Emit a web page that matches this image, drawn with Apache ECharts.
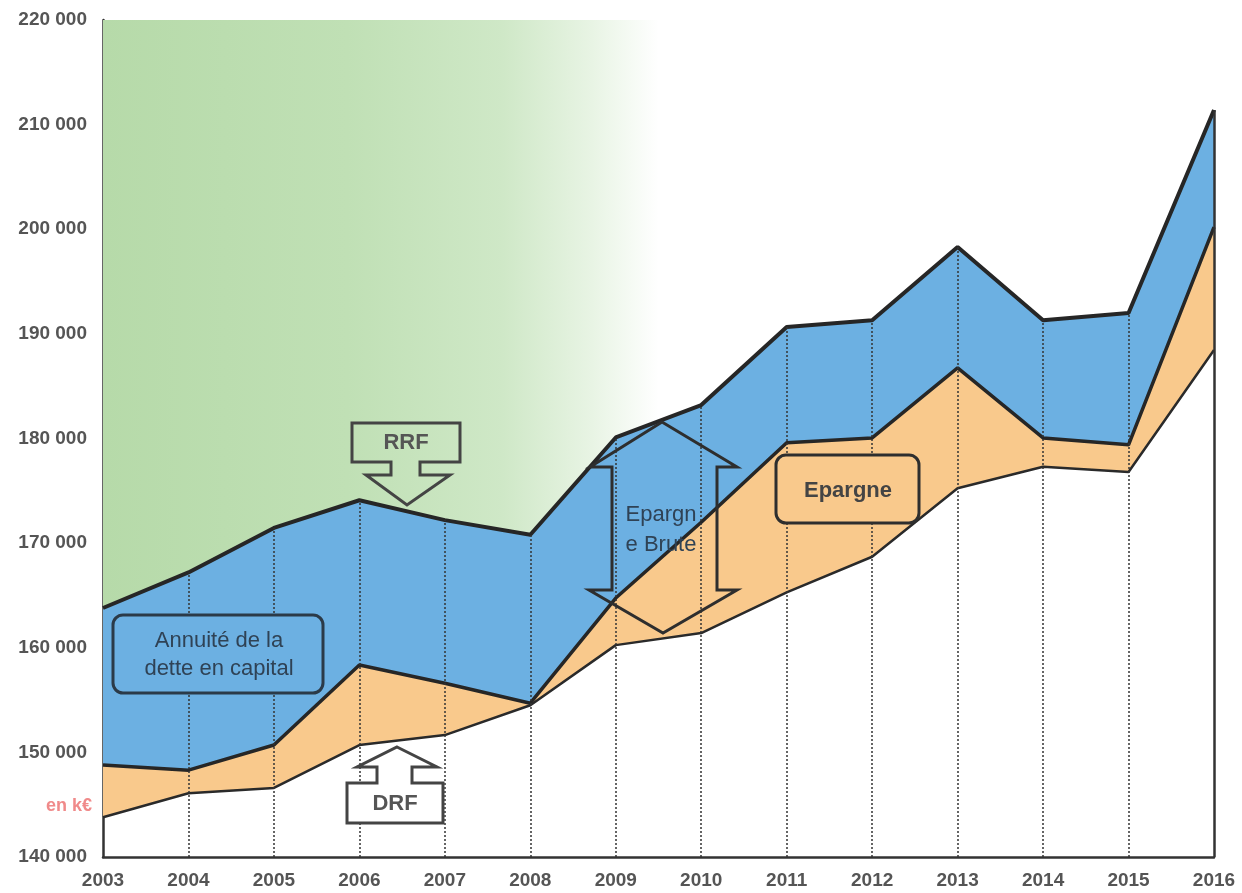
<!DOCTYPE html>
<html><head><meta charset="utf-8">
<script src="https://cdn.jsdelivr.net/npm/echarts@6/dist/echarts.min.js"></script>
<style>html,body{margin:0;padding:0;background:#fff}#c{width:1242px;height:893px}</style>
</head><body><div id="c"></div>
<script>
const years = ['2003','2004','2005','2006','2007','2008','2009','2010','2011','2012','2013','2014','2015','2016'];
const drf = [143800,146100,146600,150700,151650,154500,160250,161400,165300,168700,175250,177300,176800,188450];
const epargneTop = [148800,148300,150700,158350,156600,154700,164750,172000,179600,180050,186750,180050,179400,200200];
const rrf = [163800,167200,171450,174100,172200,170800,180100,183200,190650,191300,198300,191300,192000,211400];
const yMin = 140000, yMax = 220000, yStep = 10000;

const epargneBand = epargneTop.map((v,i)=>v-drf[i]);
const annuiteBand = rrf.map((v,i)=>v-epargneTop[i]);
const greenBand = rrf.map(v=>yMax-v);

const dotted = [];
for (let i=1;i<years.length-1;i++) dotted.push([{coord:[i,yMin]},{coord:[i,rrf[i]]}]);
const last = years.length-1;
const border = [[{coord:[last,yMin]},{coord:[last,rrf[last]]}]];

const chart = echarts.init(document.getElementById('c'));
const font = '"Liberation Sans", Arial, sans-serif';
chart.setOption({
  animation:false,
  backgroundColor:'#fff',
  grid:{left:103,right:28,top:20,bottom:36},
  xAxis:{type:'category',data:years,boundaryGap:false,
    axisLine:{lineStyle:{color:'#333',width:2.5}},axisTick:{show:false},
    axisLabel:{color:'#555',fontWeight:'bold',fontSize:19,fontFamily:font,margin:14},
    splitLine:{show:false}},
  yAxis:{type:'value',min:yMin,max:yMax,interval:yStep,
    axisLine:{show:true,lineStyle:{color:'#333',width:2.5}},axisTick:{show:false},
    splitLine:{show:false},
    axisLabel:{color:'#555',fontWeight:'bold',fontSize:19,fontFamily:font,margin:16,
      formatter:v=>String(v).replace(/\B(?=(\d{3})+(?!\d))/g,' ')}},
  series:[
    {name:'DRF',type:'line',stack:'a',data:drf,symbol:'none',z:6,
     lineStyle:{color:'#2a2a2a',width:2.5}},
    {name:'Epargne',type:'line',stack:'a',data:epargneBand,symbol:'none',z:5,
     lineStyle:{color:'#262626',width:3.5},areaStyle:{color:'#f9c98c',opacity:1}},
    {name:'Annuité',type:'line',stack:'a',data:annuiteBand,symbol:'none',z:4,
     lineStyle:{color:'#262626',width:4},areaStyle:{color:'#6cb0e2',opacity:1}},
    {name:'fond',type:'line',stack:'a',data:greenBand,symbol:'none',z:2,
     lineStyle:{width:0,opacity:0},
     areaStyle:{opacity:1,color:new echarts.graphic.LinearGradient(0,0,1,0,[
       {offset:0,color:'#b6daa9'},{offset:0.22,color:'#c0e0b5'},{offset:0.36,color:'#cfe8c7'},
       {offset:0.44,color:'#e8f4e4'},{offset:0.5,color:'#ffffff'},{offset:1,color:'#ffffff'}])}},
    {name:'grille',type:'line',data:rrf,symbol:'none',z:10,silent:true,
     lineStyle:{opacity:0},
     markLine:{silent:true,symbol:'none',z:10,label:{show:false},
       lineStyle:{color:'#333',width:1.5,type:[2,2]},data:dotted}},
    {name:'bord',type:'line',data:rrf,symbol:'none',z:11,silent:true,
     lineStyle:{opacity:0},
     markLine:{silent:true,symbol:'none',z:11,label:{show:false},
       lineStyle:{color:'#333',width:2.5,type:'solid'},data:border}}
  ],
  graphic:[
    {type:'text',left:46,top:797,z:20,style:{text:'en k€',fill:'#f08a8a',font:'bold 18px '+font}},
    // Annuité box
    {type:'rect',z:20,shape:{x:113,y:615,width:210,height:78,r:10},
     style:{fill:'#6cb0e2',stroke:'#2b3a48',lineWidth:3}},
    {type:'text',z:21,x:219,y:655,style:{text:'Annuité de la\ndette en capital',fill:'#2f4255',
     font:'22px '+font,align:'center',verticalAlign:'middle',lineHeight:28}},
    // RRF arrow
    {type:'polygon',z:20,shape:{points:[[352,423],[460,423],[460,462],[420,462],[420,475],[450,475],[407,505],[366,475],[391,475],[391,462],[352,462]]},
     style:{fill:'none',stroke:'#444',lineWidth:3}},
    {type:'text',z:21,x:406,y:443,style:{text:'RRF',fill:'#555',font:'bold 22px '+font,align:'center',verticalAlign:'middle'}},
    // DRF arrow
    {type:'polygon',z:20,shape:{points:[[397,747],[437,767],[412,767],[412,783],[443,783],[443,823],[347,823],[347,783],[377,783],[377,767],[357,767]]},
     style:{fill:'#fff',stroke:'#444',lineWidth:3}},
    {type:'text',z:21,x:395,y:804,style:{text:'DRF',fill:'#555',font:'bold 22px '+font,align:'center',verticalAlign:'middle'}},
    // Epargne brute double arrow
    {type:'polygon',z:20,shape:{points:[[662,422],[737,467],[717,467],[717,590],[737,590],[663,633],[589,590],[612,590],[612,467],[590,467]]},
     style:{fill:'none',stroke:'#2e2e2e',lineWidth:3}},
    {type:'text',z:21,x:661,y:530,style:{text:'Epargn\ne Brute',fill:'#2f4255',font:'22px '+font,align:'center',verticalAlign:'middle',lineHeight:30}},
    // Epargne box
    {type:'rect',z:20,shape:{x:776,y:455,width:143,height:68,r:10},
     style:{fill:'#f9c98c',stroke:'#2e2e2e',lineWidth:3}},
    {type:'text',z:21,x:848,y:491,style:{text:'Epargne',fill:'#444',font:'bold 22px '+font,align:'center',verticalAlign:'middle'}}
  ]
});
</script></body></html>
